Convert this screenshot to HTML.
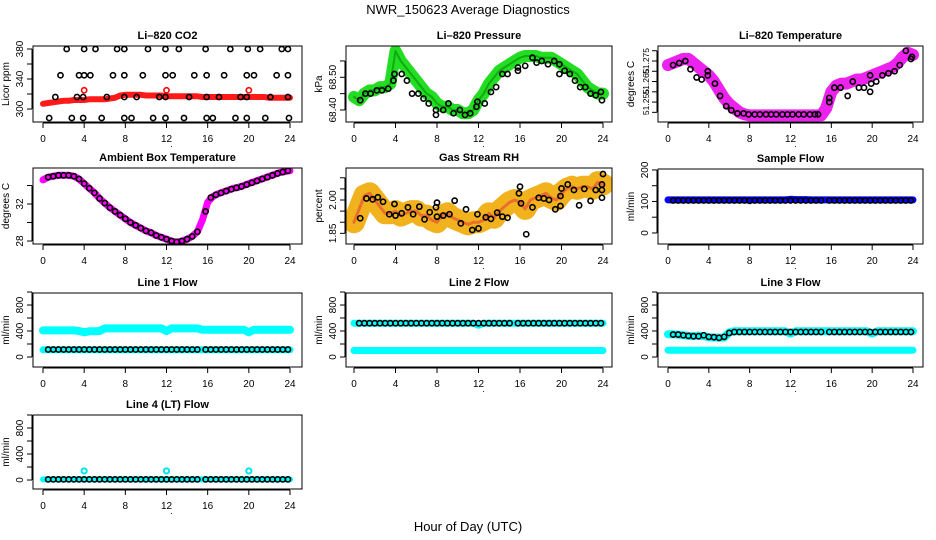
<!DOCTYPE html>
<html><head><meta charset="utf-8">
<style>
html,body{margin:0;padding:0;background:#fff;}
svg{display:block;font-family:"Liberation Sans",sans-serif;}
</style></head>
<body>
<svg id="chart" width="936" height="540" viewBox="0 0 936 540" xmlns="http://www.w3.org/2000/svg">
<rect x="0" y="0" width="936" height="540" fill="#fff"/>
<text x="468" y="14" text-anchor="middle" font-size="13">NWR_150623  Average Diagnostics</text>
<text x="468" y="531" text-anchor="middle" font-size="13">Hour of Day (UTC)</text>
</svg>
<script>
// ---- shared time axes (hours) ----
const TB = [0,0.5,1,1.5,2,2.5,3,3.5,4,4.5,5,5.5,6,6.5,7,7.5,8,8.5,9,9.5,10,10.5,11,11.5,12,12.5,13,13.5,14,14.5,15,15.5,16,16.5,17,17.5,18,18.5,19,19.5,20,20.5,21,21.5,22,22.5,23,23.5,24];
const T = [0.5,1,1.5,2,2.5,3,3.5,4,4.5,5,5.5,6,6.5,7,7.5,8,8.5,9,9.5,10,10.5,11,11.5,12,12.5,13,13.5,14,14.5,15,15.8,16.3,16.8,17.3,17.8,18.3,18.8,19.3,19.8,20.3,20.8,21.3,21.8,22.3,22.8,23.3,23.8];
const xTicks = [0,4,8,12,16,20,24];

// ---- CO2 ----
const co2Band = [307,308,309,310,311,311,312,312,312,313,313,313,313,314,315,318,319,319,319,319,318,318,318,318,317,317,317,317,317,317,317,316,316,316,316,316,316,316,316,316,316,316,316,316,315,315,315,315,315];
const co2T380 = [2.3,4.0,5.1,7.2,7.9,10.2,11.9,13.2,15.8,18.2,19.9,21.1,23.2,23.8];
const co2T345 = [1.7,3.5,4.0,4.6,6.8,7.9,9.7,11.9,12.6,14.7,15.9,17.6,19.8,20.5,22.7,23.8];
const co2T316 = [1.2,3.3,3.9,6.2,7.9,9.1,11.3,11.9,14.2,15.9,17.1,19.2,19.8,22.1,23.8];
const co2T288 = [0.6,2.8,3.9,5.7,7.9,8.6,10.7,11.9,13.7,15.9,16.5,18.7,19.8,21.6,23.9];
const co2Levels = [380,345,316,288];
const co2RedT = [4,12,20];
const co2RedV = [325,325,325];

// ---- Pressure ----
const presBand = [68.44,68.43,68.45,68.46,68.46,68.47,68.47,68.48,68.58,68.55,68.53,68.51,68.49,68.47,68.45,68.44,68.42,68.41,68.41,68.40,68.40,68.39,68.39,68.40,68.43,68.45,68.48,68.50,68.52,68.53,68.54,68.55,68.56,68.565,68.565,68.565,68.56,68.56,68.56,68.55,68.54,68.53,68.52,68.51,68.49,68.47,68.46,68.45,68.45];
const presPtT = [0.6,1.1,1.6,2.2,2.7,3.3,3.8,3.9,4.6,5.1,5.6,6.2,6.7,7.2,7.9,7.9,8.6,9.1,9.6,10.2,10.7,11.2,11.8,11.9,12.6,13.2,13.7,14.3,14.8,15.8,15.8,16.5,17.2,17.6,18.1,18.7,19.3,19.8,19.8,20.3,20.8,21.3,21.8,22.3,22.8,23.3,23.8,23.9];
const presPtV = [68.43,68.45,68.45,68.46,68.46,68.465,68.49,68.51,68.51,68.49,68.45,68.45,68.435,68.42,68.40,68.385,68.40,68.42,68.39,68.40,68.385,68.39,68.41,68.425,68.42,68.455,68.47,68.51,68.51,68.52,68.53,68.535,68.56,68.545,68.55,68.54,68.55,68.51,68.54,68.52,68.51,68.49,68.47,68.47,68.45,68.445,68.455,68.43];

// ---- Li-820 temperature ----
const tempBand = [51.273,51.274,51.275,51.276,51.276,51.274,51.272,51.270,51.268,51.265,51.261,51.257,51.254,51.252,51.250,51.249,51.2485,51.2485,51.2485,51.2485,51.2485,51.2485,51.2485,51.2485,51.2485,51.2485,51.2485,51.2485,51.2485,51.2485,51.2485,51.252,51.260,51.263,51.264,51.264,51.265,51.266,51.266,51.267,51.268,51.269,51.270,51.271,51.272,51.274,51.277,51.279,51.278];
const tempPtT = [0.5,1.1,1.7,2.2,2.8,3.3,3.9,3.9,4.6,5.1,5.7,6.2,6.8,7.4,7.9,8.5,9.0,9.6,10.1,10.6,11.2,11.7,12.2,12.8,13.3,13.9,14.4,14.7,15.8,15.8,16.3,16.9,17.6,18.1,18.7,19.2,19.8,19.8,19.9,20.4,21.0,21.6,22.2,22.7,23.3,23.8,23.9];
const tempPtV = [51.273,51.274,51.275,51.271,51.267,51.266,51.270,51.268,51.264,51.258,51.253,51.251,51.2495,51.2495,51.249,51.249,51.249,51.249,51.249,51.249,51.249,51.249,51.249,51.249,51.249,51.249,51.249,51.249,51.255,51.257,51.262,51.262,51.258,51.265,51.262,51.262,51.260,51.268,51.264,51.265,51.268,51.269,51.270,51.273,51.280,51.276,51.277];

// ---- Ambient box temperature ----
const ambBand = [34.6,34.9,35.0,35.1,35.1,35.1,35.0,34.7,34.2,33.7,33.2,32.6,32.1,31.6,31.2,30.8,30.4,30.0,29.7,29.4,29.1,28.9,28.6,28.4,28.2,28.0,27.9,28.0,28.2,28.5,29.0,30.3,32.2,32.8,33.1,33.3,33.5,33.7,33.8,34.0,34.2,34.4,34.6,34.8,35.0,35.2,35.4,35.5,35.6];
const ambPt = [34.9,35.0,35.1,35.1,35.1,35.0,34.7,34.2,33.7,33.2,32.6,32.1,31.6,31.2,30.8,30.4,30.0,29.7,29.4,29.1,28.9,28.6,28.4,28.2,28.0,27.9,28.0,28.2,28.5,29.0,31.2,32.7,33.0,33.2,33.4,33.6,33.75,33.9,34.1,34.3,34.5,34.7,34.9,35.1,35.3,35.45,35.6];

// ---- Gas stream RH ----
const rhBand = [1.90,1.96,2.02,2.03,2.00,1.97,1.94,1.94,1.95,1.93,1.94,1.95,1.95,1.93,1.93,1.91,1.90,1.93,1.94,1.92,1.91,1.90,1.89,1.90,1.90,1.91,1.94,1.92,1.95,1.97,1.99,2.00,1.99,1.96,2.00,2.01,2.02,2.03,2.01,2.00,2.03,2.05,2.06,2.05,2.06,2.06,2.05,2.08,2.07];
const rhPtT = [0.6,1.2,1.8,2.3,2.8,3.4,3.9,4.0,4.6,5.2,5.7,6.3,6.8,7.3,7.9,8.0,8.0,8.6,9.2,9.7,10.3,10.8,11.4,11.9,12.0,12.7,13.2,13.8,14.3,14.8,15.9,16.0,16.1,16.6,17.2,17.8,18.3,18.8,19.4,19.9,20.0,19.9,20.6,21.2,21.7,22.2,22.8,23.3,23.9,23.9,23.9,24.0];
const rhPtV = [1.918,2.007,2.003,2.012,1.992,1.936,1.982,1.93,1.94,1.967,1.936,1.97,1.913,1.945,1.967,1.925,1.988,1.93,1.936,1.997,1.895,1.958,1.865,1.936,1.872,1.922,1.915,1.943,1.925,1.92,2.03,2.06,1.985,1.846,1.967,2.01,2.007,2.0,1.958,2.018,2.052,1.973,2.07,2.045,1.976,2.05,1.996,2.045,2.07,2.045,2.01,2.117];

// ---- Sample flow ----
const sampBand = [105,105,105,105,105,105,105,105,105,105,105,105,105,105,105,105,105,105,105,105,105,105,105,105,107,106,106,106,105,105,105,105,105,105,105,105,105,105,105,105,105,105,105,105,105,105,105,105,105];
const sampPt = [103,103,103,103,103,103,103,103,103,103,103,103,103,103,103,102,103,103,103,103,103,103,103,103,103,103,103,103,103,103,103,103,103,103,103,103,103,103,103,103,103,103,103,103,103,103,103];

// ---- Line flows ----
const l1Hi = [410,410,410,410,410,410,410,400,380,395,395,400,440,440,440,440,440,440,440,440,440,440,440,440,400,440,440,440,440,440,440,420,420,420,420,420,420,420,420,420,380,420,420,420,420,420,420,420,420];
const l1Lo = [110,110,110,110,110,110,110,110,110,110,110,110,110,110,110,110,110,110,110,110,110,110,110,110,110,110,110,110,110,110,110,110,110,110,110,110,110,110,110,110,110,110,110,110,110,110,110,110,110];
const l1Pt = [115,115,115,115,115,115,115,115,115,115,115,115,115,115,115,115,115,115,115,115,115,115,115,115,115,115,115,115,115,115,115,115,115,115,115,115,115,115,115,115,115,115,115,115,115,115,115];
const l2Hi = [520,520,520,520,520,520,520,520,520,520,520,520,520,520,520,520,520,520,520,520,520,520,520,520,490,520,520,520,520,520,520,520,520,520,520,520,520,520,520,520,520,520,520,520,520,520,520,520,520];
const l2Lo = [100,100,100,100,100,100,100,100,100,100,100,100,100,100,100,100,100,100,100,100,100,100,100,100,100,100,100,100,100,100,100,100,100,100,100,100,100,100,100,100,100,100,100,100,100,100,100,100,100];
const l2Pt = [520,520,520,520,520,520,520,520,520,520,520,520,520,520,520,520,520,520,520,520,520,520,520,520,520,520,520,520,520,520,520,520,520,520,520,520,520,520,520,520,520,520,520,520,520,520,520];
const l3Hi = [350,350,345,335,325,320,330,320,305,300,295,300,380,395,395,395,395,395,395,395,395,395,395,395,360,395,395,395,395,395,395,395,395,395,395,395,395,395,395,395,360,395,395,395,395,395,395,395,395];
const l3Lo = [105,105,105,105,105,105,105,105,105,105,105,105,105,105,105,105,105,105,105,105,105,105,105,105,105,105,105,105,105,105,105,105,105,105,105,105,105,105,105,105,105,105,105,105,105,105,105,105,105];
const l3Pt = [345,345,335,325,320,320,335,310,305,295,310,370,385,385,385,385,385,385,385,385,385,385,385,385,385,385,385,385,385,385,385,385,385,385,385,385,385,385,385,385,385,385,385,385,385,385,385];
const l4Band = [10,10,10,10,10,10,10,10,10,10,10,10,10,10,10,10,10,10,10,10,10,10,10,10,10,10,10,10,10,10,10,10,10,10,10,10,10,10,10,10,10,10,10,10,10,10,10,10,10];
const l4Pt = [10,10,10,10,10,10,10,10,10,10,10,10,10,10,10,10,10,10,10,10,10,10,10,10,10,10,10,10,10,10,10,10,10,10,10,10,10,10,10,10,10,10,10,10,10,10,10];
const l4OutT = [4,12,20];
const l4OutV = [140,140,140];

const NS = "http://www.w3.org/2000/svg";
const svg = document.getElementById("chart");
function mk(tag, attrs, parent){
  const e = document.createElementNS(NS, tag);
  for (const k in attrs) e.setAttribute(k, attrs[k]);
  (parent||svg).appendChild(e);
  return e;
}

function panel(p){
  const g = mk("g", {});
  
  
  const [x0,y0,x1,y1] = p.box;
  const sx = h => p.xr[0] + (h/24)*(p.xr[1]-p.xr[0]);
  const sy = v => y1 - (v - p.yd[0])/(p.yd[1]-p.yd[0])*(y1-y0);
  const t = mk("text", {x:(x0+x1)/2, y:y0-7, "text-anchor":"middle", "font-size":"11", "font-weight":"bold"}, g);
  
  
  t.textContent = p.title;
  const yt = mk("text", {x:0, y:0, "text-anchor":"middle", "font-size":"10", transform:`translate(${x0-24},${(y0+y1)/2}) rotate(-90)`}, g);
  
  
  yt.textContent = p.ylab;
  const xa = mk("g", {stroke:"#000","stroke-width":"1"}, g);
  
  
  mk("line", {x1:sx(0), x2:sx(24), y1:y1+1, y2:y1+1}, xa);
  xTicks.forEach(h => {
    mk("line", {x1:sx(h), x2:sx(h), y1:y1+1, y2:y1+6}, xa);
    const l = mk("text", {x:sx(h), y:y1+20, "text-anchor":"middle", "font-size":"10", stroke:"none", fill:"#000"}, g);
    
    
    l.textContent = h;
  });
  const dot = mk("text", {x:sx(12.5), y:y1+25, "text-anchor":"middle", "font-size":"9"}, g);
  
  
  dot.textContent = ".";
  const ya = mk("g", {stroke:"#000","stroke-width":"1"}, g);
  
  
  mk("line", {x1:x0-1, x2:x0-1, y1:sy(p.yt[0]), y2:sy(p.yt[p.yt.length-1])}, ya);
  p.yt.forEach(v => mk("line", {x1:x0-6, x2:x0-1, y1:sy(v), y2:sy(v)}, ya));
  p.yl.forEach(v => {
    const l = mk("text", {x:0, y:0, "text-anchor":"middle", "font-size":p.lfs||"10", transform:`translate(${x0-(p.lfs?9:10)},${sy(v)}) rotate(-90)`}, g);
    
    
    l.textContent = p.fmt ? p.fmt(v) : v;
  });
  const clip = "clip-" + p.name;
  const cp = mk("clipPath", {id:clip}, g);
  mk("rect", {x:x0, y:y0, width:x1-x0, height:y1-y0}, cp);
  const plot = mk("g", {"clip-path":`url(#${clip})`}, g);
  
  
  return {g, plot, sx, sy, box:p.box};
}
function band(P, ts, vs, color, w){
  const pts = ts.map((t,i)=>P.sx(t).toFixed(1)+","+P.sy(vs[i]).toFixed(1)).join(" ");
  const pl = mk("polyline", {points:pts, fill:"none", stroke:color, "stroke-width":w, "stroke-linejoin":"round", "stroke-linecap":"round"}, P.plot);
  
  
}
function pts(P, ts, vs, color, sw){
  ts.forEach((t,i)=>{
    const c = mk("circle", {cx:P.sx(t), cy:P.sy(vs[i]), r:2.6, fill:"none", stroke:color, "stroke-width":sw||1.6}, P.plot);
    
    
  });
}
function frame(P){
  const [x0,y0,x1,y1] = P.box;
  const r = mk("rect", {x:x0, y:y0, width:x1-x0, height:y1-y0, fill:"none", stroke:"#000", "stroke-width":"1"}, P.g);
  
  
}
const C1 = [43,290], C2 = [354,603], C3 = [668,913];
const B1 = [33,302], B2 = [346,612], B3 = [658,923];
const R1 = [46,122], R2 = [168,244], R3 = [293,367], R4 = [415,489];
const box = (c,r)=>[c[0],r[0],c[1],r[1]];
const flowT = [0,200,400,600,800,1000], flowL = [0,400,800];

let P = panel({name:"co2-panel", title:"Li–820 CO2", ylab:"Licor ppm", box:box(B1,R1), xr:C1, yd:[282.7,384], yt:[300,320,340,360,380], yl:[300,340,380]});
band(P, TB, co2Band, "#ff1a1a", 6);
[co2T380,co2T345,co2T316,co2T288].forEach((ts,k)=>pts(P, ts, ts.map(()=>co2Levels[k]), "#000"));
pts(P, co2RedT, co2RedV, "#ff0000");
frame(P);

P = panel({name:"pressure-panel", title:"Li–820 Pressure", ylab:"kPa", box:box(B2,R1), xr:C2, yd:[68.3633,68.5957], yt:[68.40,68.45,68.50,68.55], yl:[68.40,68.50], fmt:v=>v.toFixed(2)});
band(P, TB, presBand, "#22dd22", 12);
band(P, TB, presBand, "#11aa11", 2);
pts(P, presPtT, presPtV, "#000");
frame(P);

P = panel({name:"temperature-panel", title:"Li–820 Temperature", ylab:"degrees C", box:box(B3,R1), xr:C3, yd:[51.2453,51.2823], yt:[51.250,51.255,51.260,51.265,51.270,51.275,51.280], yl:[51.255,51.265,51.275], lfs:"8.5", fmt:v=>v.toFixed(3)});
band(P, TB, tempBand, "#ee22ee", 12);
pts(P, tempPtT, tempPtV, "#000");
frame(P);

P = panel({name:"ambient-panel", title:"Ambient Box Temperature", ylab:"degrees C", box:box(B1,R2), xr:C1, yd:[27.68,35.89], yt:[28,30,32,34], yl:[28,32]});
band(P, TB, ambBand, "#ff00ff", 7);
pts(P, T, ambPt, "#000");
frame(P);

P = panel({name:"rh-panel", title:"Gas Stream RH", ylab:"percent", box:box(B2,R2), xr:C2, yd:[1.802,2.144], yt:[1.85,1.90,1.95,2.00,2.05,2.10], yl:[1.85,2.00], fmt:v=>v.toFixed(2)});
band(P, TB, rhBand, "#f2b21e", 22);
band(P, TB, rhBand, "#e8702a", 3);
pts(P, rhPtT, rhPtV, "#000");
frame(P);

P = panel({name:"sample-flow-panel", title:"Sample Flow", ylab:"ml/min", box:box(B3,[169,244]), xr:C3, yd:[-35,203], yt:[0,50,100,150,200], yl:[0,100,200]});
band(P, TB, sampBand, "#0000ff", 7);
pts(P, T, sampPt, "#000");
frame(P);

P = panel({name:"line1-flow-panel", title:"Line 1 Flow", ylab:"ml/min", box:box(B1,R3), xr:C1, yd:[-154,985], yt:flowT, yl:flowL});
band(P, TB, l1Hi, "#00ffff", 8);
band(P, TB, l1Lo, "#00ffff", 7);
pts(P, T, l1Pt, "#000");
frame(P);

P = panel({name:"line2-flow-panel", title:"Line 2 Flow", ylab:"ml/min", box:box(B2,R3), xr:C2, yd:[-154,985], yt:flowT, yl:flowL});
band(P, TB, l2Hi, "#00ffff", 7);
band(P, TB, l2Lo, "#00ffff", 7);
pts(P, T, l2Pt, "#000");
frame(P);

P = panel({name:"line3-flow-panel", title:"Line 3 Flow", ylab:"ml/min", box:box(B3,R3), xr:C3, yd:[-154,985], yt:flowT, yl:flowL});
band(P, TB, l3Hi, "#00ffff", 8);
band(P, TB, l3Lo, "#00ffff", 7);
pts(P, T, l3Pt, "#000");
frame(P);

P = panel({name:"line4-flow-panel", title:"Line 4 (LT) Flow", ylab:"ml/min", box:box(B1,R4), xr:C1, yd:[-138,1000], yt:flowT, yl:flowL});
band(P, TB, l4Band, "#00ffff", 6);
pts(P, T, l4Pt, "#000");
pts(P, l4OutT, l4OutV, "#00e5ee", 2);
frame(P);
</script>
</body></html>
